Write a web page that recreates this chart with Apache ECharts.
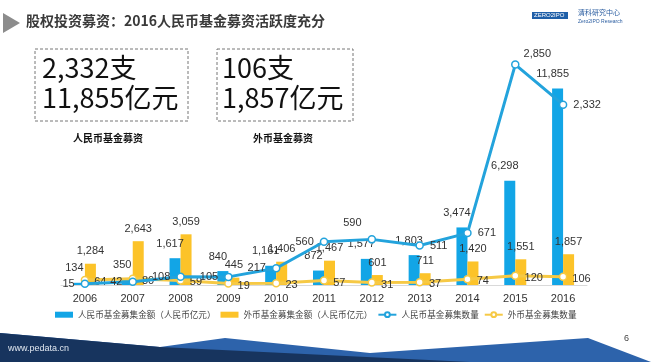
<!DOCTYPE html>
<html><head><meta charset="utf-8">
<script src="https://cdn.jsdelivr.net/npm/echarts@6/dist/echarts.min.js"></script>
<style>html,body{margin:0;padding:0;background:#fff}#c{width:651px;height:362px}</style>
</head><body><div id="c"></div>
<script>
const years = ['2006','2007','2008','2009','2010','2011','2012','2013','2014','2015','2016'];
const rmbAmount = [134, 350, 1617, 840, 1161, 872, 1577, 1803, 3474, 6298, 11855];
const fxAmount = [1284, 2643, 3059, 445, 1406, 1467, 601, 711, 1420, 1551, 1857];
const rmbCount = [15, 42, 108, 105, 217, 560, 590, 511, 671, 2850, 2332];
const fxCount = [64, 80, 59, 19, 23, 57, 31, 37, 74, 120, 106];
const seriesNames = ['人民币基金募集金额（人民币亿元）','外币基金募集金额（人民币亿元）','人民币基金募集数量','外币基金募集数量'];
const titleText = '股权投资募资：2016人民币基金募资活跃度充分';
const box1 = ['2,332支','11,855亿元'];
const box2 = ['106支','1,857亿元'];
const box1Caption = '人民币基金募资';
const box2Caption = '外币基金募资';

const BLUE = '#12a5e6', YELLOW = '#fcc329', LBLUE = '#23a3dc', LYELLOW = '#f6c945';
const fmt = v => v.toLocaleString('en-US');
const lblBase = {show:true, color:'#333', fontSize:11, fontFamily:'Liberation Sans, Arial, sans-serif', formatter:p=>fmt(p.value)};

const chart = echarts.init(document.getElementById('c'), null, {renderer:'canvas'});
chart.setOption({
  animation:false,
  backgroundColor:'#fff',
  grid:{left:61, right:64, top:53, bottom:77},
  legend:{
    bottom:38, left:50, itemWidth:18, itemHeight:6, itemGap:5,
    textStyle:{fontSize:8.6, color:'#444', fontFamily:'Noto Sans CJK SC'},
    data:[{name:seriesNames[0],icon:'rect'},{name:seriesNames[1],icon:'rect'},{name:seriesNames[2]},{name:seriesNames[3]}]
  },
  xAxis:{type:'category', data:years,
    axisLine:{lineStyle:{color:'#d9d9d9'}}, axisTick:{lineStyle:{color:'#d9d9d9'}},
    axisLabel:{color:'#333', fontSize:11, fontFamily:'Liberation Sans, Arial, sans-serif', margin:8}},
  yAxis:[
    {type:'value', min:0, max:14000, show:false, splitLine:{show:false}},
    {type:'value', min:0, max:3000, show:false, splitLine:{show:false}}
  ],
  series:[
    {name:seriesNames[0], type:'bar', data:rmbAmount, barWidth:11, barGap:'0%', itemStyle:{color:BLUE},
     label:Object.assign({}, lblBase, {position:'top', offset:[-5,-4]}), z:2},
    {name:seriesNames[1], type:'bar', data:fxAmount, barWidth:11, barGap:'0%', itemStyle:{color:YELLOW},
     label:Object.assign({}, lblBase, {position:'top', offset:[0,-2]}), z:2},
    {name:seriesNames[2], type:'line', yAxisIndex:1, symbol:'circle', symbolSize:7,
     lineStyle:{color:LBLUE, width:3}, itemStyle:{color:'#fff', borderColor:LBLUE, borderWidth:1.5},
     data:rmbCount.map((v,i)=>({value:v, label:{position: i<7 ? 'left' : 'right', offset: i===9 ? [-2,-11] : (i===6 ? [0,-16] : [0,0])}})),
     label:Object.assign({}, lblBase, {distance:6}), z:4},
    {name:seriesNames[3], type:'line', yAxisIndex:1, symbol:'circle', symbolSize:7,
     lineStyle:{color:LYELLOW, width:3}, itemStyle:{color:'#fff', borderColor:LYELLOW, borderWidth:1.5},
     data:fxCount, label:Object.assign({}, lblBase, {position:'right', distance:5, offset:[0,2]}), z:3}
  ],
  graphic:[
    {type:'polygon', shape:{points:[[0,333],[160,347],[225,338],[370,353],[588,338],[651,362],[0,362]]}, style:{fill:'#2d63ab'}, silent:true},
    {type:'polygon', shape:{points:[[0,333],[160,347],[470,362],[0,362]]}, style:{fill:'#17345e'}, silent:true},
    {type:'text', left:8, top:344, style:{text:'www.pedata.cn', fill:'#dfe6ef', fontSize:9, fontFamily:'Liberation Sans, Arial'}},
    {type:'text', left:624, top:334, style:{text:'6', fill:'#444', fontSize:9, fontFamily:'Liberation Sans, Arial'}},
    {type:'polygon', shape:{points:[[3,13],[20,23],[3,33]]}, style:{fill:'#8c8c8c'}},
    {type:'text', left:26, top:14, style:{text:titleText, fill:'#3a3a3a', fontSize:14, fontWeight:'bold', fontFamily:'Noto Sans CJK SC'}},
    {type:'rect', shape:{x:532, y:12, width:36, height:7}, style:{fill:'#1f5fa8'}},
    {type:'text', left:534, top:12, style:{text:'ZERO2IPO', fill:'#fff', fontSize:6, fontFamily:'Liberation Sans'}},
    {type:'text', left:578, top:9, style:{text:'清科研究中心', fill:'#2a5da0', fontSize:7, fontFamily:'Noto Sans CJK SC'}},
    {type:'text', left:578, top:19, style:{text:'Zero2IPO Research', fill:'#2a5da0', fontSize:5, fontFamily:'Liberation Sans'}},
    {type:'rect', shape:{x:35, y:49, width:153, height:72}, style:{fill:'none', stroke:'#777', lineWidth:1, lineDash:[3,2]}},
    {type:'rect', shape:{x:217, y:49, width:136, height:72}, style:{fill:'none', stroke:'#777', lineWidth:1, lineDash:[3,2]}},
    {type:'text', left:42, top:54, style:{text:box1[0], fill:'#111', fontSize:27, fontFamily:'Noto Sans CJK SC'}},
    {type:'text', left:42, top:84, style:{text:box1[1], fill:'#111', fontSize:27, fontFamily:'Noto Sans CJK SC'}},
    {type:'text', left:222, top:54, style:{text:box2[0], fill:'#111', fontSize:27, fontFamily:'Noto Sans CJK SC'}},
    {type:'text', left:222, top:84, style:{text:box2[1], fill:'#111', fontSize:27, fontFamily:'Noto Sans CJK SC'}},
    {type:'text', left:73, top:133, style:{text:box1Caption, fill:'#111', fontSize:10, fontWeight:'bold', fontFamily:'Noto Sans CJK SC'}},
    {type:'text', left:253, top:133, style:{text:box2Caption, fill:'#111', fontSize:10, fontWeight:'bold', fontFamily:'Noto Sans CJK SC'}}
  ]
});
</script></body></html>
